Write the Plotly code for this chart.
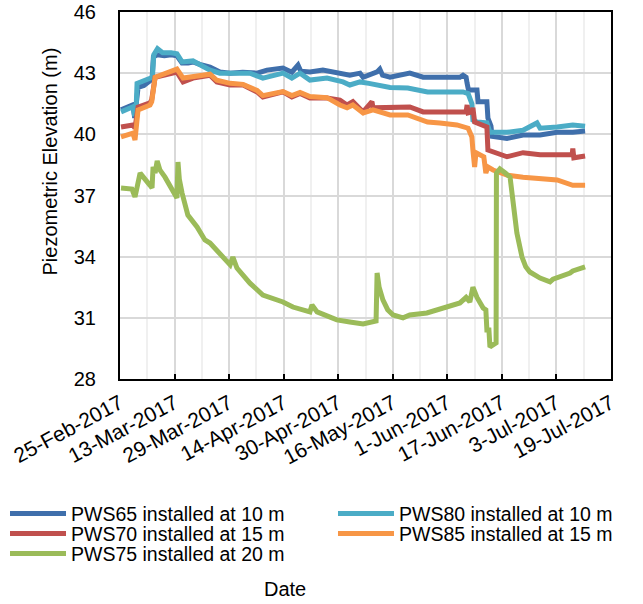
import datetime as dt
import plotly.graph_objects as go

# Piezometer records, 25-Feb-2017 to mid-July 2017.
# Times are given in days since the start of monitoring; elevations in metres.
START = dt.datetime(2017, 2, 25)

pws65_day = [0.3, 2.0, 3.8, 4.3, 4.8, 5.3, 7.0, 8.8, 9.4, 9.8, 11.0, 13.0, 15.0, 16.7,
             18.2, 20.0, 21.4, 24.0, 26.4, 29.3, 32.3, 36.0, 40.2, 43.1, 47.8, 50.4,
             52.2, 53.0, 55.7, 59.5, 64.5, 67.4, 70.4, 71.3, 75.4, 76.2, 77.0, 79.2,
             85.0, 88.9, 93.8, 99.7, 100.6, 101.5, 101.8, 102.2, 104.7, 105.0, 107.6,
             107.9, 108.8, 109.1, 113.5, 118.2, 123.2, 128.2, 132.8, 136.4]
pws65_elev = [41.2, 41.3, 41.45, 40.8, 41.5, 42.3, 42.4, 42.65, 42.7, 43.8, 43.9, 43.85,
              43.9, 43.85, 43.5, 43.5, 43.55, 43.4, 43.3, 43.06, 43.0, 43.05, 43.0, 43.15,
              43.25, 43.05, 43.4, 43.1, 43.06, 43.15, 43.0, 42.9, 43.0, 42.8, 43.06, 43.2,
              42.9, 42.8, 43.0, 42.8, 42.8, 42.8, 42.9, 42.8, 42.5, 42.17, 42.17, 41.6,
              41.6, 40.8, 40.4, 39.9, 39.8, 39.97, 39.97, 40.1, 40.1, 40.16]

pws80_day = [0.3, 2.0, 3.8, 4.3, 4.8, 5.0, 7.0, 8.8, 9.5, 9.9, 11.0, 12.5, 15.0, 16.7,
             18.2, 21.4, 26.4, 29.3, 38.1, 41.9, 47.8, 50.4, 52.8, 55.7, 60.7, 65.4,
             67.4, 70.4, 73.0, 79.2, 84.4, 90.2, 93.8, 100.6, 102.1, 103.2, 103.5,
             104.7, 107.6, 108.5, 113.5, 118.2, 122.3, 123.2, 128.2, 132.8, 136.4]
pws80_elev = [41.1, 41.2, 41.35, 40.9, 41.6, 42.5, 42.6, 42.75, 42.8, 43.9, 44.2, 44.0,
              44.0, 43.95, 43.55, 43.6, 43.15, 43.0, 43.0, 42.76, 43.0, 42.76, 43.0,
              42.66, 42.76, 42.57, 42.42, 42.57, 42.5, 42.3, 42.27, 42.08, 42.08, 42.08,
              42.0, 41.5, 40.7, 40.6, 40.56, 40.1, 40.1, 40.2, 40.56, 40.3, 40.36, 40.46,
              40.4]

pws70_day = [0.3, 3.8, 4.4, 5.3, 8.8, 9.3, 10.3, 14.7, 16.7, 18.5, 21.4, 26.4, 28.4,
             32.3, 36.1, 40.2, 41.9, 47.8, 50.4, 52.8, 55.7, 60.7, 64.5, 66.6, 68.3,
             71.3, 73.9, 74.2, 80.1, 85.0, 88.9, 93.8, 99.7, 101.5, 101.8, 102.1,
             103.2, 103.5, 104.0, 104.7, 107.6, 107.9, 109.4, 113.5, 118.2, 123.2,
             128.2, 132.6, 132.8, 133.1, 136.4]
pws70_elev = [40.36, 40.46, 40.3, 41.34, 41.54, 41.7, 42.8, 43.0, 43.05, 42.57, 42.76,
              42.9, 42.57, 42.42, 42.42, 42.08, 41.83, 42.08, 41.83, 42.0, 41.78, 41.78,
              41.68, 41.44, 41.6, 41.1, 41.6, 41.3, 41.3, 41.34, 41.1, 41.1, 41.1, 41.1,
              41.44, 41.05, 41.1, 41.3, 40.6, 40.56, 40.36, 39.23, 39.13, 38.9, 39.1,
              39.0, 39.0, 39.0, 39.3, 38.85, 38.94]

pws85_day = [0.3, 3.8, 4.4, 5.3, 8.8, 9.3, 10.3, 14.7, 16.7, 18.5, 21.4, 26.4, 28.4,
             32.3, 36.1, 40.2, 41.9, 47.8, 50.4, 52.8, 55.7, 60.7, 64.5, 66.6, 68.3,
             71.3, 74.2, 79.2, 84.4, 90.2, 93.8, 98.8, 102.1, 103.2, 103.5, 104.0,
             104.4, 106.7, 107.3, 107.9, 109.4, 113.5, 118.2, 123.2, 128.2, 132.8, 136.4]
pws85_elev = [39.87, 40.06, 39.72, 41.2, 41.44, 41.6, 42.8, 43.1, 43.2, 42.76, 42.85,
              42.95, 42.65, 42.5, 42.45, 42.15, 41.9, 42.1, 41.9, 42.05, 41.85, 41.8,
              41.44, 41.3, 41.44, 41.05, 41.2, 40.95, 40.95, 40.6, 40.56, 40.46, 40.3,
              39.87, 39.23, 38.4, 39.1, 38.9, 38.1, 38.4, 38.25, 38.0, 37.9, 37.86,
              37.76, 37.5, 37.5]

pws75_day = [0.3, 3.5, 4.4, 5.0, 5.9, 8.8, 9.4, 9.7, 10.3, 10.9, 11.7, 13.2, 15.5, 16.7,
             17.0, 17.4, 18.2, 19.9, 22.6, 24.9, 26.4, 29.3, 32.3, 33.1, 34.3, 38.1,
             41.9, 47.8, 50.7, 55.7, 56.3, 57.8, 63.6, 67.4, 71.3, 75.1, 75.4, 76.0,
             77.1, 78.5, 80.1, 83.0, 85.0, 90.0, 93.0, 99.7, 101.5, 102.6, 103.5, 104.7,
             106.5, 107.3, 107.6, 108.2, 108.5, 110.3, 110.4, 111.4, 113.0, 114.4, 115.2,
             116.4, 117.9, 119.0, 120.2, 123.2, 126.1, 127.0, 132.0, 132.8, 136.4]
pws75_elev = [37.37, 37.32, 36.93, 37.5, 38.1, 37.5, 37.37, 38.4, 38.1, 38.7, 38.25, 37.9,
              37.27, 36.88, 38.64, 37.8, 37.12, 36.04, 35.46, 34.82, 34.67, 34.18, 33.6,
              33.98, 33.44, 32.7, 32.12, 31.78, 31.53, 31.29, 31.63, 31.29, 30.9, 30.8,
              30.7, 30.85, 33.2, 32.5, 31.88, 31.4, 31.14, 31.0, 31.14, 31.24, 31.39,
              31.73, 32.0, 31.78, 32.5, 32.0, 31.48, 31.39, 30.4, 30.4, 29.57, 29.77,
              38.1, 38.3, 38.1, 37.9, 36.8, 35.16, 33.98, 33.5, 33.25, 32.95, 32.76,
              32.9, 33.2, 33.3, 33.5]

# name, data, colour, legend slot (one legend per entry: two columns of rows)
series = [
    ("PWS65 installed at 10 m", pws65_day, pws65_elev, "#3F6FAB", "legend"),
    ("PWS80 installed at 10 m", pws80_day, pws80_elev, "#4BACC6", "legend2"),
    ("PWS70 installed at 15 m", pws70_day, pws70_elev, "#C0504D", "legend3"),
    ("PWS85 installed at 15 m", pws85_day, pws85_elev, "#F79646", "legend4"),
    ("PWS75 installed at 20 m", pws75_day, pws75_elev, "#9BBB59", "legend5"),
]

FONT = "Liberation Sans, Arial, sans-serif"
DAY_MS = 86400000

fig = go.Figure()
for name, days, elev, color, leg in series:
    fig.add_trace(go.Scatter(
        x=[START + dt.timedelta(days=d) for d in days],
        y=elev,
        mode="lines",
        name=name,
        line=dict(color=color, width=5),
        legend=leg,
    ))


def legend_at(x, y):
    return dict(
        x=x, y=y,
        orientation="v",
        xanchor="left",
        yanchor="top",
        font=dict(family=FONT, size=19.5, color="#000000"),
        bgcolor="rgba(0,0,0,0)",
        itemwidth=56,
    )


COL1, COL2 = -0.2342, 0.4338
ROW1, ROW2, ROW3 = -0.3140, -0.3685, -0.4230

fig.update_layout(
    width=643,
    height=604,
    margin=dict(l=120, r=32, t=12, b=225, autoexpand=False),
    paper_bgcolor="white",
    plot_bgcolor="white",
    font=dict(family=FONT, size=20, color="#000000"),
    showlegend=True,
    legend=legend_at(COL1, ROW1),
    legend2=legend_at(COL2, ROW1),
    legend3=legend_at(COL1, ROW2),
    legend4=legend_at(COL2, ROW2),
    legend5=legend_at(COL1, ROW3),
    xaxis=dict(
        type="date",
        range=[START, START + dt.timedelta(days=144)],
        tick0=START,
        dtick=16 * DAY_MS,
        tickformat="%-d-%b-%Y",
        tickangle=-28,
        ticks="inside",
        ticklen=5,
        tickwidth=2,
        tickcolor="#000000",
        ticklabelstandoff=2,
        showline=True,
        linecolor="#000000",
        linewidth=2,
        mirror=True,
        showgrid=True,
        gridcolor="#D9D9D9",
        gridwidth=2,
        minor=dict(tick0=START, dtick=8 * DAY_MS, showgrid=True,
                   gridcolor="#F0F0F0", gridwidth=2, ticks=""),
        zeroline=False,
        tickfont=dict(family=FONT, size=21),
    ),
    yaxis=dict(
        range=[28, 46],
        tick0=28,
        dtick=3,
        ticks="",
        ticklabelstandoff=18,
        showline=True,
        linecolor="#000000",
        linewidth=2,
        mirror=True,
        showgrid=True,
        gridcolor="#D9D9D9",
        gridwidth=2,
        zeroline=False,
        tickfont=dict(family=FONT, size=20),
    ),
    annotations=[
        dict(text="Piezometric Elevation (m)", textangle=-90, xref="paper", yref="paper",
             x=-0.1426, y=0.5926, xanchor="center", yanchor="middle", showarrow=False,
             font=dict(family=FONT, size=20)),
        dict(text="Date", xref="paper", yref="paper", x=0.336, y=-0.572,
             xanchor="center", yanchor="middle", showarrow=False,
             font=dict(family=FONT, size=20)),
    ],
)

fig.write_html("out.html")
